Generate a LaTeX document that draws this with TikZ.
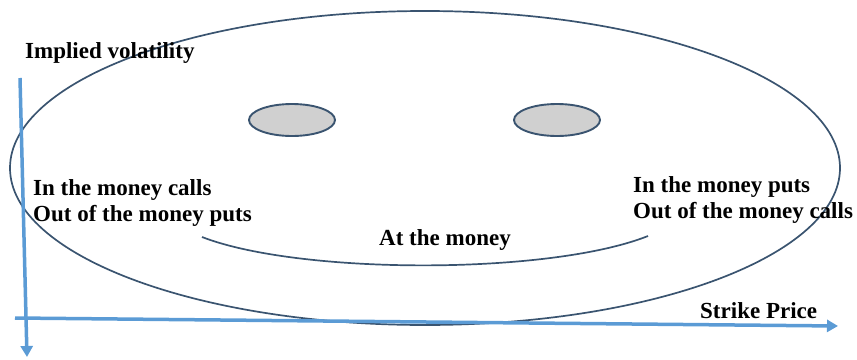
\documentclass[tikz,border=0pt]{standalone}
\usepackage{fontspec}
\setmainfont{Liberation Serif}
\usetikzlibrary{arrows.meta}
\definecolor{axisblue}{HTML}{5B9BD5}
\definecolor{linedark}{HTML}{3A5470}
\definecolor{eyegray}{HTML}{D0D0D0}
\tikzset{
  axis/.style={draw=axisblue, line width=3.5pt, -{Triangle[length=11pt,width=12pt]}},
  face/.style={draw=linedark, line width=1.7pt},
  eye/.style={draw=linedark, line width=1.9pt, fill=eyegray},
  lbl/.style={font=\fontsize{23}{26}\selectfont\bfseries, inner sep=0pt, anchor=base west}
}
\begin{document}
\begin{tikzpicture}[x=1pt,y=-1pt]
\useasboundingbox (0,0) rectangle (857,359);
% face outline
\draw[face] (425,168) ellipse [x radius=415, y radius=157];
% eyes
\draw[eye] (292,120) ellipse [x radius=43, y radius=16];
\draw[eye] (557,120) ellipse [x radius=43, y radius=16];
% smile
\coordinate (s1) at (202,237);
\coordinate (s2) at (648,236);
\draw[face] (s1) .. controls (300,275) and (550,275) .. (s2);
% axes
\coordinate (yTop) at (20,78);
\coordinate (yEnd) at (27,357);
\coordinate (xStart) at (15,318);
\coordinate (xEnd) at (838,326);
\draw[axis] (yTop) -- (yEnd);
\draw[axis] (xStart) -- (xEnd);
% labels
\node[lbl] (iv) at (25,58) {Implied volatility};
\node[lbl] (itmc) at (33,195) {In the money calls};
\node[lbl] (otmp) at (33,221) {Out of the money puts};
\node[lbl] (itmp) at (633,192) {In the money puts};
\node[lbl] (otmc) at (633,218) {Out of the money calls};
\node[lbl] (atm) at (379,245) {At the money};
\node[lbl] (sp) at (700,318) {Strike Price};
\end{tikzpicture}
\end{document}
